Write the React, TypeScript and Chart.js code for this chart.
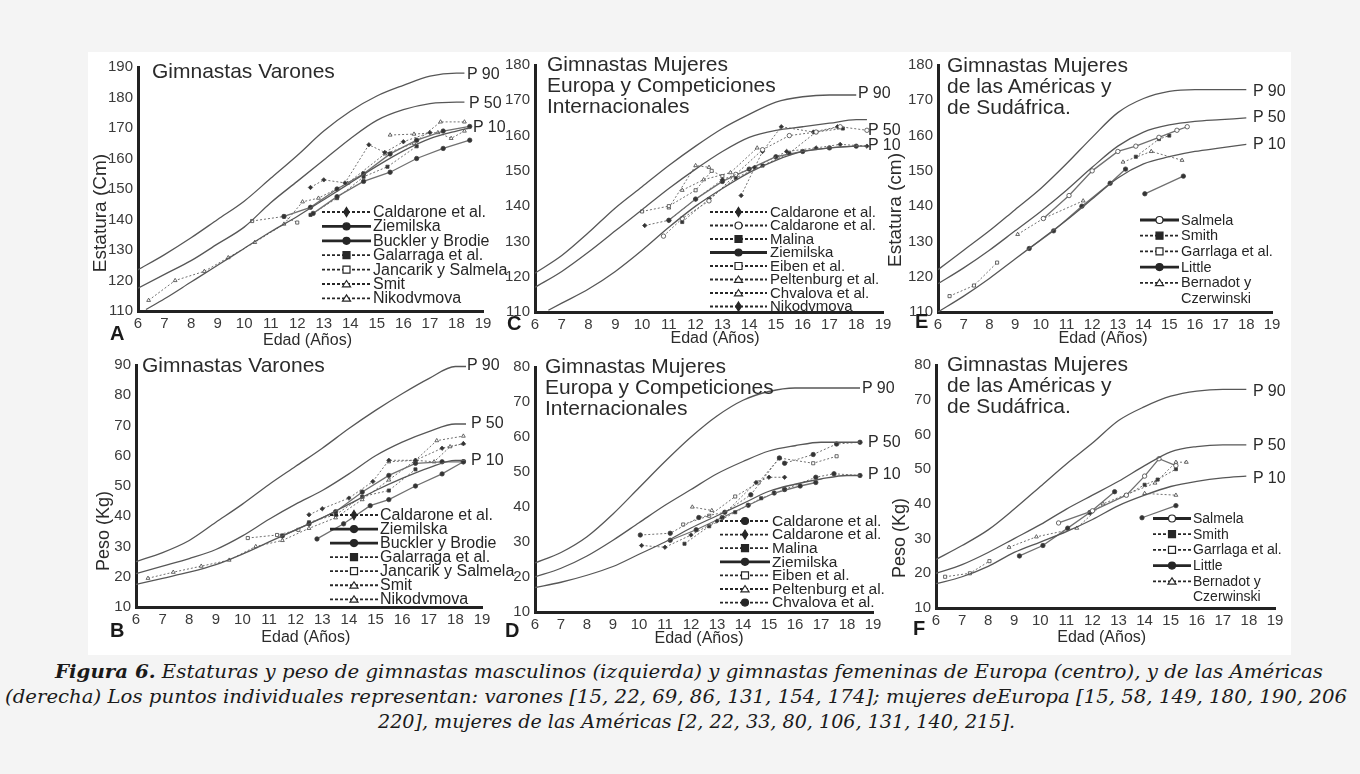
import React, { useEffect, useLayoutEffect, useRef } from 'react';
import { Chart, registerables } from 'chart.js';

Chart.register(...registerables);
Chart.defaults.font.family = '"Liberation Sans", Arial, sans-serif';

type Pt = [number, number];
type Marker = 'circle' | 'rect' | 'rectRot' | 'triangle';

// ---------- Panel A: Estatura, varones ----------
const A_AGES = [6, 7, 8, 9, 10, 11, 12, 13, 14, 15, 16, 17, 18, 18.3];
const A_P90 = [123.5, 128.5, 134, 140, 146, 153.5, 161, 169, 175.5, 180.5, 184, 187, 188, 188];
const A_P50 = [117.5, 122, 126.5, 132, 137.5, 145.5, 152.5, 159.5, 166.5, 172.5, 176, 178, 178.5, 178.5];
const A_P10_AGES = [6.3, 7, 8, 9, 10, 11, 12, 13, 14, 15, 16, 17, 18, 18.5];
const A_P10 = [110.5, 114, 119.5, 125, 130.5, 136, 141, 146.5, 152, 157.5, 162.5, 166.5, 169, 170];
const A_CALDARONE: Pt[] = [[12.5, 150.5], [13.0, 153], [13.8, 152], [14.7, 164.5], [15.3, 162], [16.0, 165.5], [17.0, 168.5]];
const A_ZIEMILSKA: Pt[] = [[12.6, 142], [13.5, 147.5], [14.5, 152.5], [15.5, 155.5], [16.5, 160], [17.5, 163.3], [18.5, 166]];
const A_BUCKLER: Pt[] = [[11.5, 141], [12.5, 144], [13.5, 150], [14.5, 155], [15.5, 161.5], [16.5, 166], [17.5, 169], [18.5, 170.5]];
const A_GALARRAGA: Pt[] = [[12.5, 141.5], [13.5, 147], [14.5, 154], [15.4, 157.3], [16.5, 164]];
const A_JANCARIK: Pt[] = [[10.3, 139.5], [11.5, 141], [12.0, 139]];
const A_SMIT: Pt[] = [[6.4, 113.5], [7.4, 120], [8.5, 123], [9.4, 127.5], [10.4, 132.5], [11.5, 138.5], [12.2, 145.8], [12.8, 147], [13.9, 151.9], [15.3, 161.5], [16.4, 165], [17.4, 172], [18.3, 172]];
const A_NIKOD: Pt[] = [[15.5, 167.7], [16.4, 168], [17.3, 168.5], [17.8, 166.6], [18.3, 169]];

// ---------- Panel B: Peso, varones ----------
const B_AGES = [6, 7, 8, 9, 10, 11, 12, 13, 14, 15, 16, 17, 18, 18.4];
const B_P90 = [25, 28, 32, 38, 44, 50.5, 56.5, 62.5, 69, 75, 80.5, 85.5, 89.5, 89.5];
const B_P50 = [21, 23.5, 26, 29, 33.5, 39, 44, 48.5, 54, 60, 64.5, 68, 70.5, 70.5];
const B_P10 = [17.5, 19.5, 21.5, 24, 27.5, 31.5, 35.5, 39.5, 44, 48.5, 52.5, 56, 58.5, 58.5];
const B_CALDARONE: Pt[] = [[12.5, 40.5], [13.0, 42.5], [14.0, 46], [14.9, 51.5], [15.5, 58.5], [16.5, 58.5], [17.5, 62.5], [18.3, 64]];
const B_ZIEMILSKA: Pt[] = [[12.8, 32.5], [13.8, 37.5], [14.8, 43.5], [15.5, 45.5], [16.5, 50], [17.5, 54], [18.3, 58]];
const B_BUCKLER: Pt[] = [[11.5, 33.5], [12.5, 37.5], [13.5, 41.5], [14.5, 48], [15.5, 53.5], [16.5, 57.5], [17.5, 58], [18.3, 58]];
const B_GALARRAGA: Pt[] = [[12.5, 38], [13.5, 40.5], [14.5, 46.5], [15.5, 48.5], [16.5, 55.5]];
const B_JANCARIK: Pt[] = [[10.2, 32.8], [11.3, 33.8], [12.1, 35.5]];
const B_SMIT: Pt[] = [[6.45, 19.5], [7.4, 21.5], [8.45, 23.5], [9.5, 25.5], [10.5, 30], [11.5, 32], [12.5, 36], [13.5, 39.5], [14.5, 45.5], [15.5, 52], [16.5, 58.5], [17.3, 65], [18.3, 66.5]];
const B_NIKOD: Pt[] = [[15.5, 58], [16.5, 58.5], [17.2, 58], [17.8, 63], [18.3, 64]];

// ---------- Panel C: Estatura, mujeres Europa ----------
const C_AGES = [6, 7, 8, 9, 10, 11, 12, 13, 14, 15, 16, 17, 18];
const C_P90 = [121, 126, 132.5, 139.5, 145.5, 151.5, 157, 162, 166, 169.5, 171, 171.5, 171.5];
const C_P50_AGES = [6, 7, 8, 9, 10, 11, 12, 13, 14, 15, 16, 17, 18, 18.4];
const C_P50 = [117, 121.5, 127, 133, 139, 145, 150.5, 155.5, 159.5, 161.5, 162.5, 163.5, 164.5, 164.5];
const C_P10_AGES = [6.5, 7, 8, 9, 10, 11, 12, 13, 14, 15, 16, 17, 18, 18.4];
const C_P10 = [110.5, 112.5, 116.5, 121.5, 127.5, 134, 140, 145, 149.5, 153, 155.5, 156.5, 157, 157];
const C_CALD1: Pt[] = [[10.1, 134.5], [11.0, 136], [12.0, 142], [13.0, 147.5], [14.2, 151], [15.4, 155.5], [16.5, 156.5], [17.4, 157.5], [18.4, 157]];
const C_CALD2: Pt[] = [[10.8, 131.5], [11.5, 136.5], [12.5, 141.5], [13.5, 149], [14.5, 156], [15.5, 160], [16.5, 161], [17.4, 162.5], [18.4, 161.5]];
const C_MALINA: Pt[] = [[11.5, 135.5], [12.5, 142], [13.5, 148], [14.5, 151.5], [15.5, 155], [16.5, 161], [17.5, 162]];
const C_ZIEMILSKA: Pt[] = [[11, 136], [12, 142], [13, 147], [14, 150.5], [15, 154], [16, 155.5], [17, 156.5], [18, 157]];
const C_EIBEN: Pt[] = [[10.0, 138.5], [11.0, 140], [12.0, 144.5], [12.6, 150], [13.0, 148.5]];
const C_PELTENBURG: Pt[] = [[11.5, 144.5], [12.3, 147.5], [13.3, 149.5], [14.3, 156.5]];
const C_CHVALOVA: Pt[] = [[11.0, 139.5], [12.0, 151.5], [12.5, 151]];
const C_NIKOD: Pt[] = [[13.7, 143], [14.5, 155.5], [15.2, 162.5], [16.4, 161], [17.3, 162.5]];

// ---------- Panel D: Peso, mujeres Europa ----------
const D_AGES = [6, 7, 8, 9, 10, 11, 12, 13, 14, 15, 16, 17, 18, 18.5];
const D_P90 = [24, 27, 31.5, 38, 45.5, 53, 60, 66, 70.5, 73, 74, 74, 74, 74];
const D_P50 = [20, 22.5, 26, 30.5, 35.5, 40.5, 45, 49.5, 53, 56, 57.5, 58.5, 58.5, 58.5];
const D_P10 = [17, 18.5, 20.5, 23, 26.5, 30, 34, 37.5, 41, 44.5, 46.5, 48, 49, 49];
const D_CALD1: Pt[] = [[10.05, 32], [11.2, 32.5], [12.3, 37], [13.3, 38.5], [14.3, 43.5], [15.4, 54], [15.6, 52.5], [16.7, 55], [17.6, 58], [18.5, 58.5]];
const D_CALD2: Pt[] = [[10.1, 29], [11.0, 28.5], [12.0, 32], [13.0, 36], [14.5, 47], [15.0, 48.5], [15.6, 48.5]];
const D_MALINA: Pt[] = [[11.75, 29.5], [12.7, 34.5], [13.7, 38.5], [14.7, 42.5], [15.6, 45]];
const D_ZIEMILSKA: Pt[] = [[11.2, 30.5], [12.2, 33.5], [13.2, 37], [14.2, 40.5], [15.2, 44], [16.2, 46], [16.8, 47]];
const D_EIBEN: Pt[] = [[11.7, 35], [12.7, 37.5], [13.7, 43], [14.6, 47], [15.4, 54], [16.7, 52.5], [17.6, 54.5]];
const D_PELTENBURG: Pt[] = [[12.05, 40], [12.8, 39]];
const D_CHVALOVA: Pt[] = [[15.6, 45], [16.8, 48.5], [17.5, 49.5], [18.5, 49]];

// ---------- Panel E: Estatura, mujeres Américas ----------
const E_AGES = [6, 7, 8, 9, 10, 11, 12, 13, 14, 15, 16, 17, 18];
const E_P90 = [122, 127.5, 133, 139, 145, 152, 159.5, 166.5, 170.5, 172.5, 173, 173, 173];
const E_P50 = [118, 122.5, 127.5, 133, 138.5, 144.5, 151, 157, 161, 163, 164, 164.5, 165];
const E_P10 = [110, 114.5, 119.5, 125, 130.5, 136, 142, 148, 152, 154, 155.5, 156.5, 157.5];
const E_SALMELA: Pt[] = [[10.1, 136.5], [11.1, 143], [12.0, 150], [13.0, 155.5], [13.7, 157], [14.6, 159.5], [15.3, 161.5], [15.7, 162.5]];
const E_SMITH: Pt[] = [[13.7, 154], [14.6, 159], [15.0, 160]];
const E_GARRLAGA: Pt[] = [[6.45, 114.5], [7.4, 117.5], [8.3, 124]];
const E_LITTLE: Pt[] = [[9.55, 128], [10.5, 133], [11.6, 140], [12.7, 146.5], [13.3, 150.5]];
const E_BERNADOT: Pt[] = [[9.1, 132], [10.1, 136.5], [11.65, 141.5]];
const E_EXTRA1: Pt[] = [[13.2, 152.5], [14.3, 155.5], [15.5, 153]];
const E_EXTRA2: Pt[] = [[14.05, 143.5], [15.55, 148.5]];

// ---------- Panel F: Peso, mujeres Américas ----------
const F_AGES = [6, 7, 8, 9, 10, 11, 12, 13, 14, 15, 16, 17, 17.9];
const F_P90 = [24, 28, 32.5, 38.5, 45, 51.5, 57.5, 64, 68, 71, 72.5, 73, 73];
const F_P50 = [20, 22.5, 26, 30, 34, 38.5, 42.5, 46.5, 51, 55, 56.5, 57, 57];
const F_P10 = [17, 19, 22, 26, 29, 32, 35.5, 39.5, 42.5, 45, 46.5, 47.5, 48];
const F_SALMELA: Pt[] = [[10.7, 34.5], [12.0, 38], [13.3, 42.5], [14.0, 48], [14.55, 53], [15.2, 51]];
const F_SMITH: Pt[] = [[13.3, 42.5], [14.0, 45.5], [14.5, 47], [15.2, 50]];
const F_GARRLAGA: Pt[] = [[6.35, 19], [7.3, 20], [8.05, 23.5]];
const F_LITTLE: Pt[] = [[9.2, 25], [10.1, 28], [11.05, 33], [11.9, 37.5], [12.85, 43.5]];
const F_BERNADOT: Pt[] = [[8.8, 27.5], [9.85, 30.5], [11.4, 33], [12.4, 40], [14.4, 46], [15.2, 52], [15.6, 52]];
const F_EXTRA1: Pt[] = [[13.9, 36], [15.2, 39.5]];
const F_EXTRA2: Pt[] = [[14.0, 43], [15.2, 42.5]];

// ---------- layout ----------
interface SeriesDef { label?: string; pts: Pt[]; marker: Marker; filled: boolean; solid: boolean; legend?: boolean }
interface PanelDef {
  area: { l: number; t: number; r: number; b: number };
  yMin: number; yMax: number;
  pct: { ages: number[]; vals: number[] }[];
  series: SeriesDef[];
  legend: { x0: number; x1: number; tx: number; y: number; dy: number; fs: number };
}

const S = (label: string | undefined, pts: Pt[], marker: Marker, filled: boolean, solid: boolean, legend = true): SeriesDef =>
  ({ label, pts, marker, filled, solid, legend });

const PANELS: PanelDef[] = [
  {
    area: { l: 138, t: 67, r: 483, b: 311 }, yMin: 110, yMax: 190,
    pct: [{ ages: A_AGES, vals: A_P90 }, { ages: A_AGES, vals: A_P50 }, { ages: A_P10_AGES, vals: A_P10 }],
    series: [
      S('Caldarone et al.', A_CALDARONE, 'rectRot', true, false),
      S('Ziemilska', A_ZIEMILSKA, 'circle', true, true),
      S('Buckler y Brodie', A_BUCKLER, 'circle', true, true),
      S('Galarraga et al.', A_GALARRAGA, 'rect', true, false),
      S('Jancarik y Salmela', A_JANCARIK, 'rect', false, false),
      S('Smit', A_SMIT, 'triangle', false, false),
      S('Nikodvmova', A_NIKOD, 'triangle', false, false),
    ],
    legend: { x0: 322, x1: 371, tx: 373, y: 212, dy: 14.4, fs: 16 },
  },
  {
    area: { l: 136, t: 365, r: 482, b: 607 }, yMin: 10, yMax: 90,
    pct: [{ ages: B_AGES, vals: B_P90 }, { ages: B_AGES, vals: B_P50 }, { ages: B_AGES, vals: B_P10 }],
    series: [
      S('Caldarone et al.', B_CALDARONE, 'rectRot', true, false),
      S('Ziemilska', B_ZIEMILSKA, 'circle', true, true),
      S('Buckler y Brodie', B_BUCKLER, 'circle', true, true),
      S('Galarraga et al.', B_GALARRAGA, 'rect', true, false),
      S('Jancarik y Salmela', B_JANCARIK, 'rect', false, false),
      S('Smit', B_SMIT, 'triangle', false, false),
      S('Nikodvmova', B_NIKOD, 'triangle', false, false),
    ],
    legend: { x0: 330, x1: 378, tx: 380, y: 515, dy: 14.05, fs: 16 },
  },
  {
    area: { l: 535, t: 65, r: 883, b: 312 }, yMin: 110, yMax: 180,
    pct: [{ ages: C_AGES, vals: C_P90 }, { ages: C_P50_AGES, vals: C_P50 }, { ages: C_P10_AGES, vals: C_P10 }],
    series: [
      S('Caldarone et al.', C_CALD1, 'rectRot', true, false),
      S('Caldarone et al.', C_CALD2, 'circle', false, false),
      S('Malina', C_MALINA, 'rect', true, false),
      S('Ziemilska', C_ZIEMILSKA, 'circle', true, true),
      S('Eiben et al.', C_EIBEN, 'rect', false, false),
      S('Peltenburg et al.', C_PELTENBURG, 'triangle', false, false),
      S('Chvalova et al.', C_CHVALOVA, 'triangle', false, false),
      S('Nikodvmova', C_NIKOD, 'rectRot', true, false),
    ],
    legend: { x0: 710, x1: 767, tx: 770, y: 212, dy: 13.5, fs: 15 },
  },
  {
    area: { l: 535, t: 367, r: 873, b: 612 }, yMin: 10, yMax: 80,
    pct: [{ ages: D_AGES, vals: D_P90 }, { ages: D_AGES, vals: D_P50 }, { ages: D_AGES, vals: D_P10 }],
    series: [
      S('Caldarone et al.', D_CALD1, 'circle', true, false),
      S('Caldarone et al.', D_CALD2, 'rectRot', true, false),
      S('Malina', D_MALINA, 'rect', true, false),
      S('Ziemilska', D_ZIEMILSKA, 'circle', true, true),
      S('Eiben et al.', D_EIBEN, 'rect', false, false),
      S('Peltenburg et al.', D_PELTENBURG, 'triangle', false, false),
      S('Chvalova et al.', D_CHVALOVA, 'circle', true, false),
    ],
    legend: { x0: 720, x1: 770, tx: 772, y: 521, dy: 13.6, fs: 15.5 },
  },
  {
    area: { l: 938, t: 65, r: 1272, b: 312 }, yMin: 110, yMax: 180,
    pct: [{ ages: E_AGES, vals: E_P90 }, { ages: E_AGES, vals: E_P50 }, { ages: E_AGES, vals: E_P10 }],
    series: [
      S('Salmela', E_SALMELA, 'circle', false, true),
      S('Smith', E_SMITH, 'rect', true, false),
      S('Garrlaga et al.', E_GARRLAGA, 'rect', false, false),
      S('Little', E_LITTLE, 'circle', true, true),
      S('Bernadot y\nCzerwinski', E_BERNADOT, 'triangle', false, false),
      S(undefined, E_EXTRA1, 'triangle', false, false, false),
      S(undefined, E_EXTRA2, 'circle', true, true, false),
    ],
    legend: { x0: 1140, x1: 1179, tx: 1181, y: 220, dy: 15.7, fs: 14.5 },
  },
  {
    area: { l: 936, t: 365, r: 1275, b: 608 }, yMin: 10, yMax: 80,
    pct: [{ ages: F_AGES, vals: F_P90 }, { ages: F_AGES, vals: F_P50 }, { ages: F_AGES, vals: F_P10 }],
    series: [
      S('Salmela', F_SALMELA, 'circle', false, true),
      S('Smith', F_SMITH, 'rect', true, false),
      S('Garrlaga et al.', F_GARRLAGA, 'rect', false, false),
      S('Little', F_LITTLE, 'circle', true, true),
      S('Bernadot y\nCzerwinski', F_BERNADOT, 'triangle', false, false),
      S(undefined, F_EXTRA1, 'circle', true, true, false),
      S(undefined, F_EXTRA2, 'triangle', false, false, false),
    ],
    legend: { x0: 1153, x1: 1191, tx: 1193, y: 518.5, dy: 15.7, fs: 14 },
  },
];

const PAD_L = 10, Y_W = 45, PAD_T = 14, PAD_R = 70, X_H = 30;
const INK = '#262626';

function drawMarker(ctx: CanvasRenderingContext2D, m: Marker, filled: boolean, x: number, y: number, r: number) {
  ctx.beginPath();
  if (m === 'circle') ctx.arc(x, y, r, 0, Math.PI * 2);
  else if (m === 'rect') ctx.rect(x - r, y - r, 2 * r, 2 * r);
  else if (m === 'rectRot') { ctx.moveTo(x, y - r * 1.3); ctx.lineTo(x + r * 0.8, y); ctx.lineTo(x, y + r * 1.3); ctx.lineTo(x - r * 0.8, y); ctx.closePath(); }
  else { ctx.moveTo(x, y - r); ctx.lineTo(x + r * 1.15, y + r * 0.8); ctx.lineTo(x - r * 1.15, y + r * 0.8); ctx.closePath(); }
  ctx.fillStyle = filled ? INK : '#ffffff';
  ctx.fill();
  ctx.lineWidth = 1.2;
  ctx.strokeStyle = INK;
  ctx.stroke();
}

const legendPlugin = {
  id: 'figLegend',
  afterDraw(chart: any, _args: any, opts: any) {
    const items = opts && opts.items;
    if (!items) return;
    const ctx: CanvasRenderingContext2D = chart.ctx;
    ctx.save();
    items.forEach((it: any, i: number) => {
      const y = opts.y + i * opts.dy;
      ctx.beginPath();
      ctx.setLineDash(it.solid ? [] : [3, 2]);
      ctx.lineWidth = it.solid ? 2.8 : 1.8;
      ctx.strokeStyle = INK;
      ctx.moveTo(opts.x0, y);
      ctx.lineTo(opts.x1, y);
      ctx.stroke();
      ctx.setLineDash([]);
      drawMarker(ctx, it.marker, it.filled, (opts.x0 + opts.x1) / 2, y, 3.5);
      ctx.fillStyle = INK;
      ctx.font = `${opts.fs}px "Liberation Sans", Arial, sans-serif`;
      ctx.textBaseline = 'middle';
      String(it.label).split('\n').forEach((ln: string, k: number) => ctx.fillText(ln, opts.tx, y + k * opts.dy + 0.5));
    });
    ctx.restore();
  },
};

function Panel({ def }: { def: PanelDef }) {
  const ref = useRef<HTMLCanvasElement>(null);
  const { l, t, r, b } = def.area;
  const cl = l - PAD_L - Y_W;
  const ct = t - PAD_T;
  const w = r - l + PAD_L + Y_W + PAD_R;
  const h = b - t + PAD_T + X_H;

  useEffect(() => {
    if (!ref.current) return;
    const datasets: any[] = [];
    def.pct.forEach((p) => {
      datasets.push({
        data: p.ages.map((x, i) => ({ x, y: p.vals[i] })),
        borderColor: '#575757',
        borderWidth: 1.3,
        pointRadius: 0,
        cubicInterpolationMode: 'monotone',
        fill: false,
      });
    });
    def.series.forEach((s) => {
      datasets.push({
        label: s.label,
        data: s.pts.map(([x, y]) => ({ x, y })),
        borderColor: '#707070',
        borderWidth: s.solid ? 1.3 : 1,
        borderDash: s.solid ? [] : [2, 2],
        pointStyle: s.marker,
        pointRadius: 2.2,
        pointBackgroundColor: s.filled ? '#333' : '#fff',
        pointBorderColor: '#444',
        pointBorderWidth: 0.8,
        tension: 0,
        fill: false,
      });
    });
    const lg = def.legend;
    const items = def.series.filter((s) => s.legend && s.label).map((s) => ({ label: s.label, marker: s.marker, filled: s.filled, solid: s.solid }));
    const tickFont = { size: 15, family: '"Liberation Sans", Arial, sans-serif' };
    const chart = new Chart(ref.current, {
      type: 'line',
      data: { datasets },
      plugins: [legendPlugin as any],
      options: {
        animation: false,
        responsive: false,
        maintainAspectRatio: false,
        layout: { padding: { left: PAD_L, top: PAD_T, right: PAD_R, bottom: 0 } },
        plugins: {
          legend: { display: false },
          tooltip: { enabled: false },
          figLegend: { items, x0: lg.x0 - cl, x1: lg.x1 - cl, tx: lg.tx - cl, y: lg.y - ct, dy: lg.dy, fs: lg.fs },
        } as any,
        scales: {
          x: {
            type: 'linear', min: 6, max: 19,
            ticks: { stepSize: 1, autoSkip: false, maxRotation: 0, color: '#3a3a3a', font: tickFont, padding: 4 },
            grid: { display: false, drawTicks: false },
            border: { display: true, color: '#222', width: 3 },
            afterFit: (sc: any) => { sc.height = X_H; },
          },
          y: {
            type: 'linear', min: def.yMin, max: def.yMax,
            ticks: { stepSize: 10, autoSkip: false, color: '#3a3a3a', font: tickFont, padding: 5 },
            grid: { display: false, drawTicks: false },
            border: { display: true, color: '#222', width: 3 },
            afterFit: (sc: any) => { sc.width = Y_W; },
          },
        },
      } as any,
    });
    return () => chart.destroy();
  }, []);

  return (
    <canvas
      ref={ref}
      width={w}
      height={h}
      style={{ position: 'absolute', left: cl, top: ct, width: w, height: h }}
    />
  );
}

// ---------- text overlays ----------
const TITLES = [
  { lines: ['Gimnastas Varones'], left: 152, top: 60 },
  { lines: ['Gimnastas Varones'], left: 142, top: 354 },
  { lines: ['Gimnastas Mujeres', 'Europa y Competiciones', 'Internacionales'], left: 547, top: 53 },
  { lines: ['Gimnastas Mujeres', 'Europa y Competiciones', 'Internacionales'], left: 545, top: 355 },
  { lines: ['Gimnastas Mujeres', 'de las Américas y', 'de Sudáfrica.'], left: 947, top: 54 },
  { lines: ['Gimnastas Mujeres', 'de las Américas y', 'de Sudáfrica.'], left: 947, top: 353 },
];

const PLABELS = [
  ['P 90', 467, 65.5], ['P 50', 469, 94.5], ['P 10', 473, 118.5],
  ['P 90', 467, 356.5], ['P 50', 471, 414.5], ['P 10', 471, 451.5],
  ['P 90', 858, 84.5], ['P 50', 868, 121.5], ['P 10', 868, 136.5],
  ['P 90', 862, 379.5], ['P 50', 868, 433.5], ['P 10', 868, 465.5],
  ['P 90', 1253, 82.5], ['P 50', 1253, 108.5], ['P 10', 1253, 135.5],
  ['P 90', 1253, 382.5], ['P 50', 1253, 436.5], ['P 10', 1253, 469.5],
] as [string, number, number][];

const LETTERS = [['A', 110, 323], ['B', 110, 620], ['C', 507, 313], ['D', 505, 620], ['E', 915, 311], ['F', 913, 618]] as [string, number, number][];

const XTITLES = [[307.5, 331.5], [305.8, 628.5], [715, 329.5], [699, 629.5], [1103, 329.5], [1101.7, 628.5]];

const YTITLES = [
  { text: 'Estatura (Cm)', cx: 99, cy: 212.5, size: 19 },
  { text: 'Peso (Kg)', cx: 103, cy: 531, size: 18 },
  { text: 'Estatura (cm)', cx: 894, cy: 210, size: 19 },
  { text: 'Peso (Kg)', cx: 899, cy: 538, size: 18 },
];

const SANS = '"Liberation Sans", Arial, sans-serif';

const CAPTION = [
  { parts: [{ b: true, t: 'Figura 6.' }, { b: false, t: ' Estaturas y peso de gimnastas masculinos (izquierda) y gimnastas femeninas de Europa (centro), y de las Américas' }], left: 55, width: 1268, top: 662 },
  { parts: [{ b: false, t: '(derecha) Los puntos individuales representan: varones [15, 22, 69, 86, 131, 154, 174]; mujeres deEuropa [15, 58, 149, 180, 190, 206' }], left: 5, width: 1342, top: 687 },
  { parts: [{ b: false, t: '220], mujeres de las Américas [2, 22, 33, 80, 106, 131, 140, 215].' }], left: 378, width: 637, top: 712 },
];

function Caption() {
  const refs = useRef<(HTMLSpanElement | null)[]>([]);
  useLayoutEffect(() => {
    refs.current.forEach((el, i) => {
      if (!el) return;
      const w = el.getBoundingClientRect().width;
      if (w > 0) el.style.transform = `scaleX(${CAPTION[i].width / w})`;
    });
  }, []);
  return (
    <>
      {CAPTION.map((c, i) => (
        <span
          key={i}
          ref={(el) => { refs.current[i] = el; }}
          style={{
            position: 'absolute', left: c.left, top: c.top, whiteSpace: 'nowrap',
            fontFamily: '"DejaVu Serif", serif', fontStyle: 'italic', fontSize: 19, lineHeight: '19px',
            color: '#1a1a1a', transformOrigin: 'left top', display: 'inline-block',
          }}
        >
          {c.parts.map((p, k) => (p.b ? <b key={k}>{p.t}</b> : <span key={k}>{p.t}</span>))}
        </span>
      ))}
    </>
  );
}

export default function App() {
  return (
    <div style={{ position: 'fixed', left: 0, top: 0, width: 1360, height: 774, background: '#f4f4f4', overflow: 'hidden' }}>
      <div style={{ position: 'absolute', left: 88, top: 52, width: 1203, height: 603, background: '#ffffff' }} />
      {PANELS.map((p, i) => <Panel key={i} def={p} />)}
      {TITLES.map((tt, i) => (
        <div key={'t' + i} style={{ position: 'absolute', left: tt.left, top: tt.top, fontFamily: SANS, fontSize: 21, lineHeight: '21px', color: '#2b2b2b', whiteSpace: 'nowrap' }}>
          {tt.lines.map((ln, k) => <div key={k}>{ln}</div>)}
        </div>
      ))}
      {PLABELS.map(([txt, x, y], i) => (
        <div key={'p' + i} style={{ position: 'absolute', left: x, top: y, fontFamily: SANS, fontSize: 16, lineHeight: '16px', color: '#2b2b2b', whiteSpace: 'nowrap' }}>{txt}</div>
      ))}
      {LETTERS.map(([txt, x, y], i) => (
        <div key={'l' + i} style={{ position: 'absolute', left: x, top: y, fontFamily: SANS, fontSize: 20, fontWeight: 'bold', lineHeight: '20px', color: '#1a1a1a' }}>{txt}</div>
      ))}
      {XTITLES.map(([cx, y], i) => (
        <div key={'x' + i} style={{ position: 'absolute', left: cx - 60, width: 120, top: y, textAlign: 'center', fontFamily: SANS, fontSize: 16, lineHeight: '16px', color: '#2b2b2b', whiteSpace: 'nowrap' }}>Edad (Años)</div>
      ))}
      {YTITLES.map((yt, i) => (
        <div key={'y' + i} style={{ position: 'absolute', left: yt.cx, top: yt.cy, transform: 'translate(-50%, -50%) rotate(-90deg)', fontFamily: SANS, fontSize: yt.size, lineHeight: `${yt.size}px`, color: '#2b2b2b', whiteSpace: 'nowrap' }}>{yt.text}</div>
      ))}
      <Caption />
    </div>
  );
}
